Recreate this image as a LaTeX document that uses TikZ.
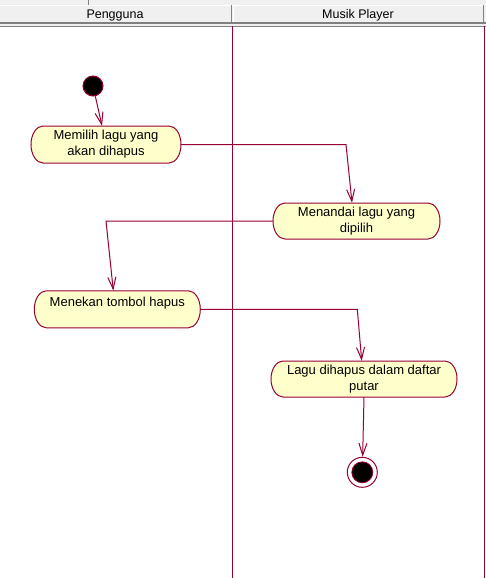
\documentclass[tikz,border=0pt]{standalone}
\usepackage{fontspec}
\setmainfont{Liberation Sans}
\usetikzlibrary{arrows.meta,calc}
\definecolor{rosered}{RGB}{153,0,51}
\definecolor{actfill}{RGB}{255,255,204}
\definecolor{hdrgray}{RGB}{240,240,240}
\definecolor{hdrdark}{RGB}{128,128,128}
\newcommand\actnode[6]{%
  \path[actshape] ({#2-#4/2+12},{#3-#5/2}) -- ({#2+#4/2-12},{#3-#5/2})
    .. controls ({#2+#4/2-5.4},{#3-#5/2}) and ({#2+#4/2},{#3-0.552*#5/2}) .. ({#2+#4/2},#3)
    .. controls ({#2+#4/2},{#3+0.552*#5/2}) and ({#2+#4/2-5.4},{#3+#5/2}) .. ({#2+#4/2-12},{#3+#5/2})
    -- ({#2-#4/2+12},{#3+#5/2})
    .. controls ({#2-#4/2+5.4},{#3+#5/2}) and ({#2-#4/2},{#3+0.552*#5/2}) .. ({#2-#4/2},#3)
    .. controls ({#2-#4/2},{#3-0.552*#5/2}) and ({#2-#4/2+5.4},{#3-#5/2}) .. cycle;
  \node[acttext,minimum width=#4,minimum height=#5] (#1) at (#2,#3) {#6};
}
\tikzset{
  actshape/.style={draw=rosered,fill=actfill,line width=1pt},
  acttext/.style={inner sep=0pt,align=center,font=\fontsize{13}{16}\selectfont,text=black},
  hdrtext/.style={inner sep=0pt,font=\fontsize{12.5}{15}\selectfont,text=black},
  flow/.style={draw=rosered,line width=1pt,-{Straight Barb[length=12pt,width=8pt]}},
  lane/.style={draw=rosered,line width=1pt},
  startnode/.style={circle,fill=black,draw=rosered,line width=1pt,minimum size=20pt,inner sep=0pt},
  endouter/.style={circle,fill=white,draw=rosered,line width=1pt,minimum size=30pt,inner sep=0pt},
  endinner/.style={circle,fill=black,draw=rosered,line width=0.8pt,minimum size=21pt,inner sep=0pt}
}
\begin{document}
\begin{tikzpicture}[x=1pt,y=-1pt]
\useasboundingbox (0,0) rectangle (486,578);
\fill[white] (0,0) rectangle (486,578);
% header
\fill[hdrgray] (0,0) rectangle (486,26);
\draw[hdrdark] (88,0) -- (88,5);
\draw[white] (0,5.5) -- (486,5.5);
\draw[hdrdark] (231.5,5) -- (231.5,23);
\draw[white] (233.5,6) -- (233.5,23);
\draw[hdrdark] (483.5,5) -- (483.5,23);
\draw[hdrdark,line width=2pt] (0,23.5) -- (486,23.5);
\draw[hdrdark] (0,25.8) -- (486,25.8);
\node[hdrtext] (h1) at (115,15) {Pengguna};
\node[hdrtext] (h2) at (358,15) {Musik Player};
% swimlane lines
\draw[lane] (232.5,26.3) -- (232.5,578);
\draw[lane] (484.5,26.3) -- (484.5,578);
% nodes
\node[startnode] (start) at (93,86) {};
\actnode{a1}{106}{144.5}{150}{37}{Memilih lagu yang\\akan dihapus}
\actnode{a2}{356.5}{221}{167}{36}{Menandai lagu yang\\dipilih}
\actnode{a3}{117.3}{309.3}{166}{37}{Menekan tombol hapus\\\mbox{}}
\actnode{a4}{364}{379}{186}{36}{Lagu dihapus dalam daftar\\putar}
\node[endouter] (end) at (362.3,472.3) {};
\node[endinner] (endin) at (end) {};
% connectors
\coordinate (k1) at (346,144.5);
\coordinate (k2) at (106,221);
\coordinate (k3) at (357.3,309.3);
\draw[flow] (start) -- ($(a1.north)+(-4,0)$);
\draw[flow] (a1.east) -- (k1) -- ($(a2.north)+(-4.5,0)$);
\draw[flow] (a2.west) -- (k2) -- ($(a3.north)+(-4,0)$);
\draw[flow] (a3.east) -- (k3) -- ($(a4.north)+(-2.3,0)$);
\draw[flow] (a4.south) -- (end);
\end{tikzpicture}
\end{document}
